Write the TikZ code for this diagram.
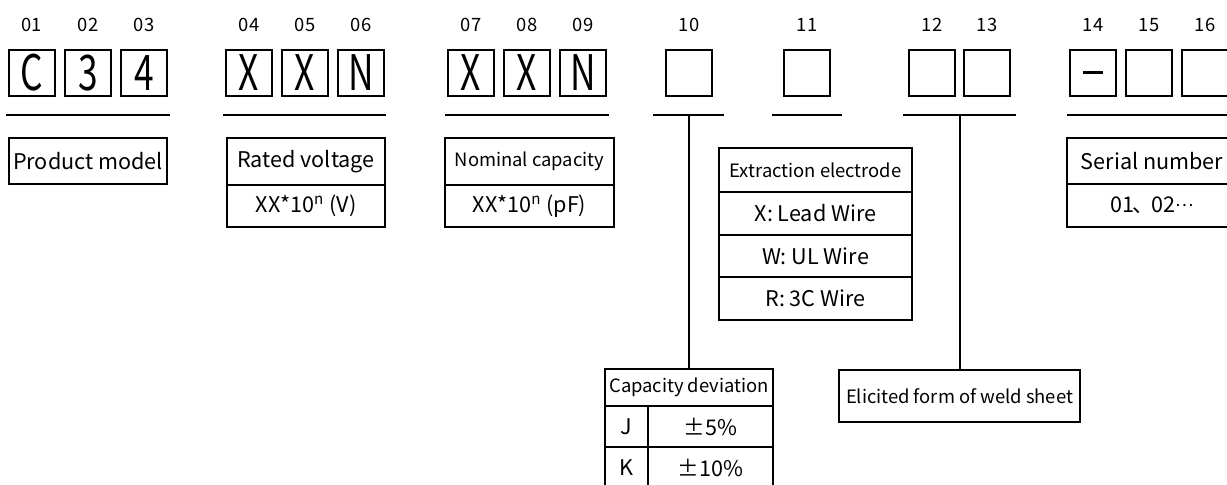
\documentclass[tikz,border=0pt]{standalone}
\usepackage{fontspec}
\setmainfont{Noto Sans CJK SC}
\usetikzlibrary{positioning}

\newcommand{\grande}{\fontsize{10.8}{13}\selectfont}
\newcommand{\pequeno}{\fontsize{9.2}{11}\selectfont}
\newcommand{\letra}[1]{\scalebox{0.72}[1]{#1}}
\newcommand{\tracinho}{\rule{14pt}{1.5pt}}

\begin{document}
\begin{tikzpicture}[x=0.5pt, y=-0.5pt,
    codebox/.style={draw, line width=1pt, minimum width=23pt, minimum height=23pt, inner sep=0pt, font=\fontsize{24.5}{26}\selectfont},
    numero/.style={font=\pequeno},
    regua/.style={line width=1pt},
    cell/.style={draw, line width=1pt, inner sep=0pt, outer sep=0pt, font=\grande}]
    
    \useasboundingbox (0,0) rectangle (1227,485);
    
    % caixas do codigo
    \foreach \id/\x/\txt in {01/32/C, 02/88/3, 03/144/4, 04/249/X, 05/305/X, 06/361/N, 07/471/X, 08/527/X, 09/583/N, 10/689/, 11/807/, 12/932/, 13/987/, 14/1093/{\tracinho}, 15/1149/, 16/1205/}{
        \node[codebox] (b\id) at (\x,73) {\letra{\txt}};
        \node[numero] (n\id) at (\x,25) {\id};
    }
    
    % linhas
    \draw[regua] (6,115) coordinate (u1a) -- (170,115) coordinate (u1b);
    \draw[regua] (223,115) coordinate (u2a) -- (386,115) coordinate (u2b);
    \draw[regua] (445,115) coordinate (u3a) -- (609,115) coordinate (u3b);
    \draw[regua] (653,115) coordinate (u10a) -- (724,115) coordinate (u10b);
    \draw[regua] (772,115) coordinate (u11a) -- (842,115) coordinate (u11b);
    \draw[regua] (903,115) coordinate (u12a) -- (1016,115) coordinate (u12b);
    \draw[regua] (1067,115) coordinate (u14a) -- (1240,115) coordinate (u14b);
    
    % tabelas
    \node[cell, minimum width=79pt, minimum height=23pt] (model) at (88,161) {Product model};
    
    \node[cell, minimum width=79pt, minimum height=23.5pt] (volt) at (306,161.5) {Rated voltage};
    \node[cell, minimum width=79pt, minimum height=21pt, below=0pt of volt] (voltv) {XX*10\textsuperscript{n} (V)};
    
    \node[cell, minimum width=84.5pt, minimum height=23.5pt, font=\pequeno] (cap) at (529.5,161.5) {Nominal capacity};
    \node[cell, minimum width=84.5pt, minimum height=21pt, below=0pt of cap] (capv) {XX*10\textsuperscript{n} (pF)};
    
    \node[cell, minimum width=85pt, minimum height=23pt] (serial) at (1152,161) {Serial number};
    \node[cell, minimum width=85pt, minimum height=21.5pt, below=0pt of serial] (serialv) {01\kern-0.1em、\kern-0.1em02\raisebox{0.3em}{\scalebox{0.8}{…}}};
    
    \node[cell, minimum width=96.5pt, minimum height=22pt, font=\pequeno] (elec) at (815.5,170) {Extraction electrode};
    \node[cell, minimum width=96.5pt, minimum height=21.5pt, below=0pt of elec] (elecx) {X: Lead Wire};
    \node[cell, minimum width=96.5pt, minimum height=21pt, below=0pt of elecx] (elecw) {W: UL Wire};
    \node[cell, minimum width=96.5pt, minimum height=21.5pt, below=0pt of elecw] (elecr) {R: 3C Wire};
    
    \node[cell, minimum width=84pt, minimum height=18.5pt, font=\pequeno] (dev) at (689,387.5) {Capacity deviation};
    \node[cell, minimum width=21.5pt, minimum height=20.5pt, below right=0pt and 0pt of dev.south west] (devj) {J};
    \node[cell, minimum width=62.5pt, minimum height=20.5pt, right=0pt of devj] (devjv) {±5\%};
    \node[cell, minimum width=21.5pt, minimum height=20.5pt, below=0pt of devj] (devk) {K};
    \node[cell, minimum width=62.5pt, minimum height=20.5pt, right=0pt of devk] (devkv) {±10\%};
    
    \node[cell, minimum width=120.5pt, minimum height=26pt, font=\pequeno] (weld) at (959.5,396) {Elicited form of weld sheet};
    
    % ligacoes
    \draw[regua] (dev.north |- u10a) -- (dev.north);
    \draw[regua] (weld.north |- u12a) -- (weld.north);
    
\end{tikzpicture}
\end{document}
